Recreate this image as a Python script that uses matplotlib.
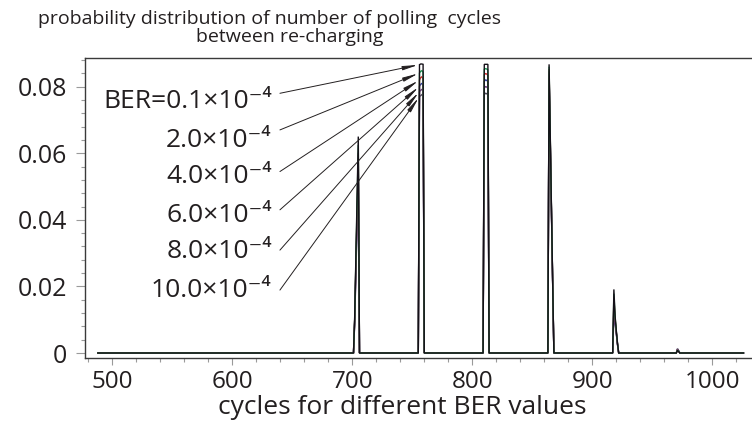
import matplotlib
matplotlib.use("Agg")
import matplotlib.pyplot as plt
from matplotlib.ticker import MultipleLocator, FuncFormatter

plt.rcParams["font.family"] = ["Open Sans", "DejaVu Sans"]

# polling cycles at which the distributions change (zero in between)
cycles = [488,
          701, 702, 703, 704, 705, 706,
          755, 756, 757, 758, 759, 760,
          809, 810, 811, 812, 813, 814,
          863, 864, 865, 866, 867, 868,
          917, 918, 919, 920, 921, 922,
          970, 971, 972, 973,
          1026]

ber_labels = ["BER=0.1×10⁻⁴", "2.0×10⁻⁴", "4.0×10⁻⁴",
              "6.0×10⁻⁴", "8.0×10⁻⁴", "10.0×10⁻⁴"]

p_ber_01 = [0,
            0, 0.011, 0.029, 0.047, 0.0650, 0,
            0, 0.0866, 0.0868, 0.0868, 0.0867, 0,
            0, 0.0867, 0.0867, 0.0867, 0.0867, 0,
            0, 0.0867, 0.0650, 0.0430, 0.0210, 0,
            0, 0.0191, 0.0112, 0.0068, 0.0030, 0,
            0, 0.0008, 0.0004, 0,
            0]
p_ber_20 = [0,
            0, 0.010, 0.028, 0.045, 0.0625, 0,
            0, 0.0841, 0.0846, 0.0848, 0.0843, 0,
            0, 0.0852, 0.0854, 0.0853, 0.0850, 0,
            0, 0.0860, 0.0645, 0.0428, 0.0212, 0,
            0, 0.0178, 0.0108, 0.0066, 0.0029, 0,
            0, 0.0009, 0.0005, 0,
            0]
p_ber_40 = [0,
            0, 0.010, 0.027, 0.043, 0.0600, 0,
            0, 0.0820, 0.0827, 0.0830, 0.0823, 0,
            0, 0.0836, 0.0839, 0.0838, 0.0834, 0,
            0, 0.0853, 0.0640, 0.0425, 0.0210, 0,
            0, 0.0165, 0.0104, 0.0064, 0.0028, 0,
            0, 0.0010, 0.0005, 0,
            0]
p_ber_60 = [0,
            0, 0.010, 0.026, 0.042, 0.0580, 0,
            0, 0.0801, 0.0807, 0.0810, 0.0804, 0,
            0, 0.0816, 0.0820, 0.0819, 0.0815, 0,
            0, 0.0846, 0.0635, 0.0422, 0.0208, 0,
            0, 0.0150, 0.0099, 0.0062, 0.0027, 0,
            0, 0.0011, 0.0006, 0,
            0]
p_ber_80 = [0,
            0, 0.009, 0.025, 0.040, 0.0555, 0,
            0, 0.0785, 0.0789, 0.0792, 0.0787, 0,
            0, 0.0796, 0.0800, 0.0799, 0.0795, 0,
            0, 0.0839, 0.0630, 0.0419, 0.0206, 0,
            0, 0.0132, 0.0094, 0.0060, 0.0026, 0,
            0, 0.0012, 0.0006, 0,
            0]
p_ber_100 = [0,
             0, 0.009, 0.024, 0.038, 0.0530, 0,
             0, 0.0770, 0.0773, 0.0776, 0.0772, 0,
             0, 0.0776, 0.0780, 0.0779, 0.0775, 0,
             0, 0.0832, 0.0625, 0.0416, 0.0204, 0,
             0, 0.0112, 0.0089, 0.0058, 0.0025, 0,
             0, 0.0013, 0.0007, 0,
             0]

series = [p_ber_01, p_ber_20, p_ber_40, p_ber_60, p_ber_80, p_ber_100]
colors = ["#141018", "#1f9a55", "#d32a2a", "#2b3a9a", "#6b3d7c", "#4d4a5a"]

TEXT = "#231f20"
SPINE = "#3a3a3a"
TICK = "#9a9a9a"

fig = plt.figure(figsize=(7.52, 4.28), dpi=100)
ax = fig.add_axes([85 / 752, 70 / 428, 667 / 752, 300 / 428])

for vals, col in reversed(list(zip(series, colors))):
    ax.plot(cycles, vals, color=col, lw=1.0, solid_joinstyle="miter")

ax.set_xlim(477.25, 1033.1)
ax.set_ylim(-0.0015, 0.0886)

ax.spines["right"].set_visible(False)
for side in ("left", "top", "bottom"):
    ax.spines[side].set_color(SPINE)
    ax.spines[side].set_linewidth(1.0)

ax.xaxis.set_major_locator(MultipleLocator(100))
ax.xaxis.set_minor_locator(MultipleLocator(20))
ax.yaxis.set_major_locator(MultipleLocator(0.02))
ax.yaxis.set_minor_locator(MultipleLocator(0.004))
ax.yaxis.set_major_formatter(FuncFormatter(lambda v, _: "0" if abs(v) < 1e-12 else f"{v:.2f}"))

ax.tick_params(axis="both", which="both", direction="out", color=TICK, width=0.8,
               labelcolor=TEXT, labelsize=18)
ax.tick_params(axis="y", which="major", length=6.5, pad=6.5)
ax.tick_params(axis="y", which="minor", length=3)
ax.tick_params(axis="x", which="major", length=5, pad=3.5, labelsize=17.5)
ax.tick_params(axis="x", which="minor", length=3)

# BER labels with leader arrows to the second peak
label_x = 632.8
label_base = [0.0735, 0.0620, 0.0510, 0.0394, 0.0284, 0.0169]
lead_x = 639.7
lead_y = [0.0780, 0.0670, 0.0545, 0.0430, 0.0309, 0.0189]
tip_idx = cycles.index(756)
for lab, yb, ys, vals in zip(ber_labels, label_base, lead_y, series):
    ax.text(label_x, yb, lab, ha="right", va="baseline", fontsize=19, color=TEXT)
    ax.annotate("", xy=(756, vals[tip_idx]), xytext=(lead_x, ys),
                arrowprops=dict(arrowstyle="-|>,head_length=0.9,head_width=0.12",
                                color=TEXT, lw=0.7, shrinkA=0, shrinkB=1,
                                mutation_scale=10))

fig.text(270 / 752, 1 - 24 / 428, "probability distribution of number of polling  cycles",
         ha="center", va="baseline", fontsize=14, color=TEXT)
fig.text(289.5 / 752, 1 - 42.5 / 428, "between re-charging",
         ha="center", va="baseline", fontsize=14, color=TEXT)
fig.text(402 / 752, 1 - 414 / 428, "cycles for different BER values",
         ha="center", va="baseline", fontsize=19, color=TEXT)

fig.savefig("out.png", dpi=100)
